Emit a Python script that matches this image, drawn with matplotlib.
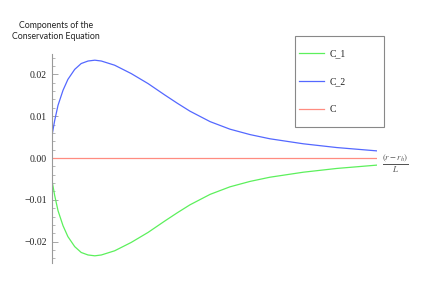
import matplotlib
matplotlib.use("Agg")
import matplotlib.pyplot as plt
from matplotlib.lines import Line2D
from matplotlib.patches import Rectangle
from matplotlib.ticker import MultipleLocator, FixedLocator

plt.rcParams['mathtext.fontset'] = 'stix'

W, H = 436, 282

# values (x in arbitrary units of (r - r_h)/L)
x_vals = [0.0, 0.074, 0.176, 0.33, 0.48, 0.69, 0.89, 1.10, 1.31, 1.51, 1.92, 2.43,
          2.95, 3.46, 3.85, 4.24, 4.86, 5.47, 6.09, 6.70, 7.73, 8.76, 10.0]
c2_vals = [0.0058, 0.0090, 0.0126, 0.0162, 0.0188, 0.0212, 0.0226, 0.0232, 0.0234,
           0.0232, 0.0222, 0.0202, 0.0178, 0.0151, 0.0131, 0.0112, 0.0087, 0.0069,
           0.0056, 0.0046, 0.0034, 0.0025, 0.0017]
c1_vals = [-v for v in c2_vals]
c_vals = [0.0] * len(x_vals)

labels = ["C_1", "C_2", "C"]
colors = ["#5cf05c", "#5468ff", "#ff8c80"]
yticks = [-0.02, -0.01, 0.0, 0.01, 0.02]
ytick_labels = ["\u22120.02", "\u22120.01", "0.00", "0.01", "0.02"]


def fx(px):
    return px / W


def fy(py):
    return 1 - py / H


fig = plt.figure(figsize=(W / 100, H / 100), dpi=100)
ax = fig.add_axes([fx(52.3), fy(262.5), (377 - 52.3) / W, 209 / H])

for ys, lab, col in zip([c1_vals, c2_vals, c_vals], labels, colors):
    ax.plot(x_vals, ys, color=col, lw=0.9, label=lab, solid_joinstyle="round")

ax.set_xlim(0, 10)
ax.set_ylim(-0.025, 0.025)

for s in ["top", "right", "bottom"]:
    ax.spines[s].set_visible(False)
ax.spines["left"].set_color("#999999")
ax.spines["left"].set_linewidth(0.8)
ax.set_xticks([])
ax.yaxis.set_major_locator(FixedLocator(yticks))
ax.yaxis.set_minor_locator(MultipleLocator(0.002))
ax.set_yticklabels(ytick_labels, family="Liberation Serif", fontsize=7, color="#222222")
ax.tick_params(axis="y", which="major", direction="in", length=4, width=0.6,
               color="#999999", pad=4)
ax.tick_params(axis="y", which="minor", direction="in", length=2, width=0.5,
               color="#999999")

fig.text(fx(56), fy(31), "Components of the\nConservation Equation",
         ha="center", va="center", fontsize=6.3, family="Lato",
         linespacing=1.3, color="#222222")

fig.text(fx(395), fy(164), r"$\frac{(r-r_h)}{L}$", ha="center",
         va="center", fontsize=9, color="#555555")

# legend box, laid out like the reference
fig.patches.append(Rectangle((fx(294.7), fy(126.7)), 89.6 / W, 90.7 / H,
                             transform=fig.transFigure, fill=False,
                             edgecolor="#888888", lw=0.8))
for i, (lab, col) in enumerate(zip(labels, colors)):
    yy = fy(53.3 + 28 * i)
    fig.add_artist(Line2D([fx(299), fx(324)], [yy, yy], color=col, lw=0.9,
                          transform=fig.transFigure))
    fig.text(fx(330), yy, lab, ha="left", va="center", fontsize=7,
             family="Liberation Serif", color="#222222")

fig.savefig("out.png", dpi=100)
